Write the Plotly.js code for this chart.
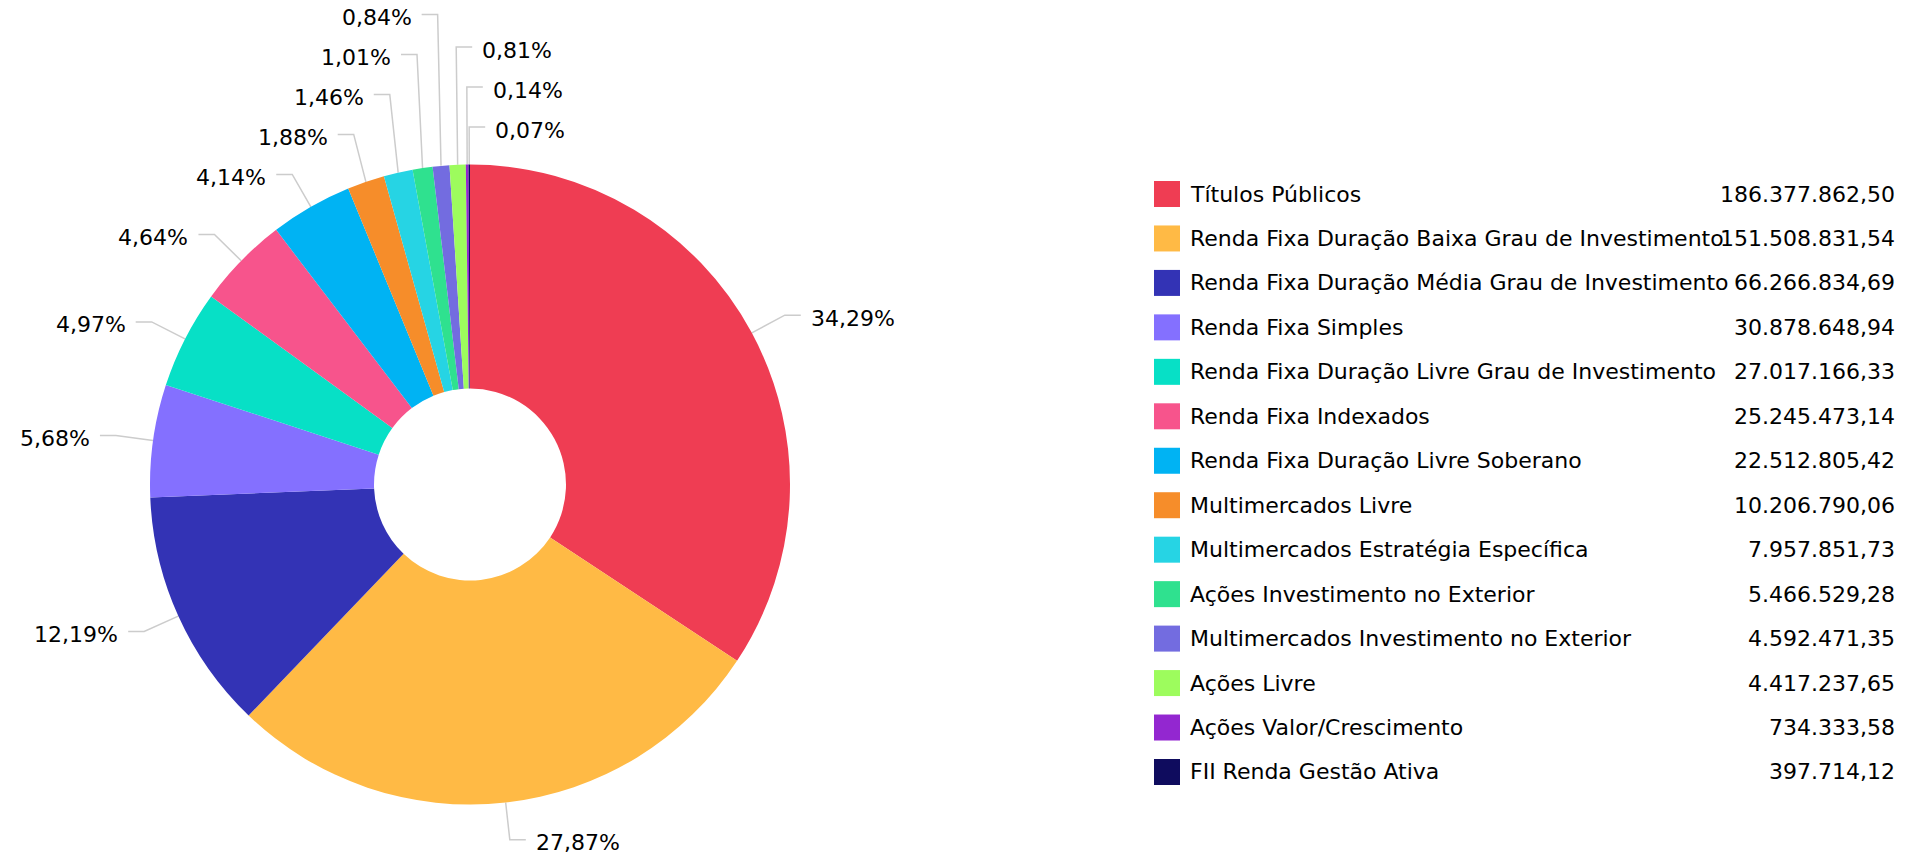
<!DOCTYPE html>
<html>
<head>
<meta charset="utf-8">
<script src="https://cdn.plot.ly/plotly-3.0.1.min.js"></script>
<style>
  html, body { margin: 0; padding: 0; background: #ffffff; }
  #chart { width: 1928px; height: 861px; }
</style>
</head>
<body>
<div id="chart"></div>
<script>
// ---- Data ----
const categories = [
  "Títulos Públicos",
  "Renda Fixa Duração Baixa Grau de Investimento",
  "Renda Fixa Duração Média Grau de Investimento",
  "Renda Fixa Simples",
  "Renda Fixa Duração Livre Grau de Investimento",
  "Renda Fixa Indexados",
  "Renda Fixa Duração Livre Soberano",
  "Multimercados Livre",
  "Multimercados Estratégia Específica",
  "Ações Investimento no Exterior",
  "Multimercados Investimento no Exterior",
  "Ações Livre",
  "Ações Valor/Crescimento",
  "FII Renda Gestão Ativa"
];
const values = [
  186377862.50, 151508831.54, 66266834.69, 30878648.94, 27017166.33,
  25245473.14, 22512805.42, 10206790.06, 7957851.73, 5466529.28,
  4592471.35, 4417237.65, 734333.58, 397714.12
];
const colors = [
  "#EF3D53", "#FFBA45", "#3333B5", "#8470FF", "#07E0C6",
  "#F7548C", "#00B3F3", "#F68D2A", "#26D4E4", "#2FE18F",
  "#736CE0", "#9DFC5D", "#9327D0", "#0F0C5E"
];

// ---- Layout constants ----
const W = 1928, H = 861;
const FONT = "DejaVu Sans, Verdana, sans-serif";
const cx = 470, cy = 484.5, R = 320;
const elbowR = R * 1.117;
const spacing = 40, hseg = 16, gap = 8, topLimit = 8;
const lineColor = "#cccccc";

function fmtNum(v) {
  const p = v.toFixed(2).split(".");
  return p[0].replace(/\B(?=(\d{3})+(?!\d))/g, ".") + "," + p[1];
}
const total = values.reduce((a, b) => a + b, 0);
const pctText = values.map(v => (v / total * 100).toFixed(2).replace(".", ",") + "%");

// ---- Label layout (computed from the data) ----
let cum = 0;
const items = values.map((v, i) => {
  const f = v / total;
  const th = 2 * Math.PI * (cum + f / 2);
  cum += f;
  return {
    i, th,
    ax: cx + R * Math.sin(th), ay: cy - R * Math.cos(th),
    ex: cx + elbowR * Math.sin(th), ey: cy - elbowR * Math.cos(th)
  };
});
let left = items.filter(d => d.th >= Math.PI).sort((a, b) => a.th - b.th);
let right = items.filter(d => d.th < Math.PI);
const overflow = [];
let prevY = Infinity;
left.forEach(d => {
  if (overflow.length) { overflow.push(d); return; }
  const y = Math.min(d.ey, prevY - spacing);
  if (y < topLimit) { overflow.push(d); return; }
  d.y = y; d.side = "L"; prevY = y;
});
left = left.filter(d => d.side === "L");
overflow.forEach(d => { d.tp = d.th - 2 * Math.PI; });
right.forEach(d => { d.tp = d.th; });
right = right.concat(overflow).sort((a, b) => b.tp - a.tp);
prevY = Infinity;
right.forEach(d => {
  d.y = Math.min(d.ey, prevY - spacing);
  d.side = "R"; prevY = d.y;
});

const traces = [];
const annotations = [];
const shapes = [];

traces.push({
  type: "pie",
  labels: categories,
  values: values,
  marker: { colors: colors, line: { width: 0 } },
  sort: false,
  direction: "clockwise",
  rotation: 0,
  hole: 0.3,
  textinfo: "none",
  hoverinfo: "label+value+percent",
  showlegend: false,
  domain: { x: [(cx - R) / W, (cx + R) / W], y: [1 - (cy + R) / H, 1 - (cy - R) / H] }
});

items.forEach(d => {
  const dir = d.side === "L" ? -1 : 1;
  traces.push({
    type: "scatter", mode: "lines",
    x: [d.ax, d.ex, d.ex + dir * hseg],
    y: [d.ay, d.y, d.y],
    line: { color: lineColor, width: 1.5 },
    hoverinfo: "skip", showlegend: false
  });
  annotations.push({
    xref: "x", yref: "y",
    x: d.ex + dir * (hseg + gap), y: d.y + 3,
    xanchor: d.side === "L" ? "right" : "left", yanchor: "middle",
    text: pctText[d.i], showarrow: false,
    font: { family: FONT, size: 22, color: "#000000" }
  });
});

// ---- Custom legend ----
const legTop = 194, legStep = 44.46, sq = 26, sqX = 1154, txtX = 1188, valX = 1897;
categories.forEach((c, i) => {
  const y = legTop + i * legStep;
  shapes.push({
    type: "rect", xref: "x", yref: "y",
    x0: sqX, x1: sqX + sq, y0: y - sq / 2, y1: y + sq / 2,
    fillcolor: colors[i], line: { width: 0 }
  });
  annotations.push({
    xref: "x", yref: "y", x: txtX, y: y, xanchor: "left", yanchor: "middle",
    text: c, showarrow: false, font: { family: FONT, size: 22, color: "#000000" }
  });
  annotations.push({
    xref: "x", yref: "y", x: valX, y: y, xanchor: "right", yanchor: "middle",
    text: fmtNum(values[i]), showarrow: false, font: { family: FONT, size: 22, color: "#000000" }
  });
});

const layout = {
  width: W, height: H,
  margin: { l: 0, r: 0, t: 0, b: 0, pad: 0 },
  paper_bgcolor: "#ffffff", plot_bgcolor: "rgba(0,0,0,0)",
  showlegend: false,
  font: { family: FONT, size: 22, color: "#000000" },
  xaxis: { range: [0, W], visible: false, fixedrange: true, domain: [0, 1] },
  yaxis: { range: [H, 0], visible: false, fixedrange: true, domain: [0, 1] },
  annotations: annotations,
  shapes: shapes
};

Plotly.newPlot("chart", traces, layout, { displayModeBar: false, staticPlot: false });
</script>
</body>
</html>
